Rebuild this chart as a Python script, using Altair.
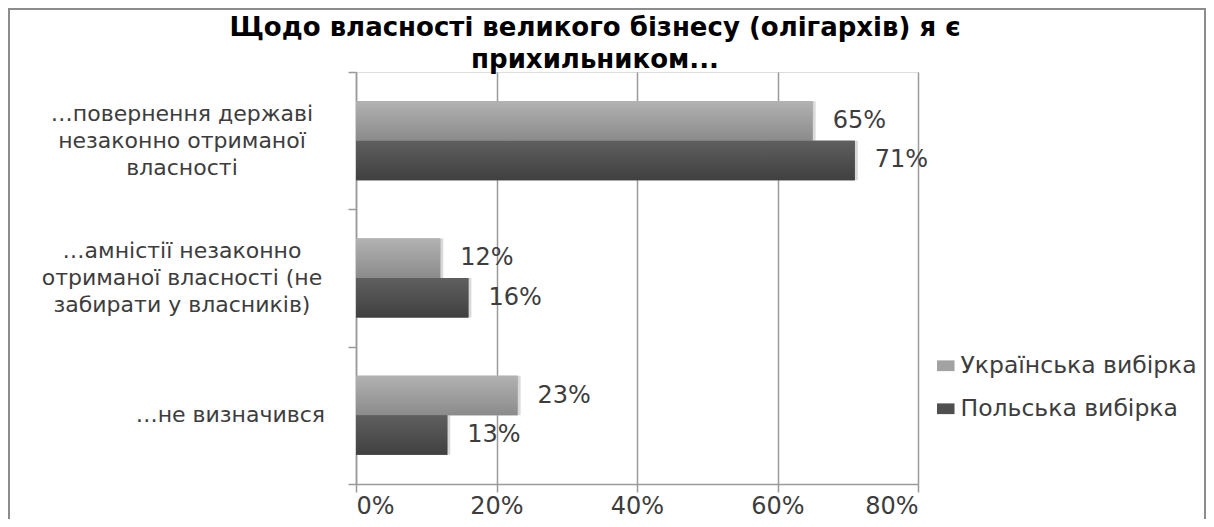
import altair as alt
import pandas as pd

# ---- data ----
categories = [
    "…повернення державі|незаконно отриманої|власності",
    "…амністії незаконно|отриманої власності (не|забирати у власників)",
    "…не визначився",
]
series = ["Українська вибірка", "Польська  вибірка"]
ukr_values = [65, 12, 23]
pol_values = [71, 16, 13]
x_ticks = [0, 20, 40, 60, 80]
title_lines = ["Щодо власності великого бізнесу (олігархів) я є", "прихильником..."]

FONT = "DejaVu Sans"
TEXT = "#3d3d3d"
GRID = "#9a9a9a"

rows = []
for c, u, p in zip(categories, ukr_values, pol_values):
    rows.append({"cat": c, "series": series[0], "value": u})
    rows.append({"cat": c, "series": series[1], "value": p})
df = pd.DataFrame(rows)
cat_df = pd.DataFrame({"cat": categories,
                       "multi": ["|" in c for c in categories]})
title_df = pd.DataFrame({"t": ["|".join(title_lines)]})

y_scale = alt.Scale(domain=categories, paddingInner=0, paddingOuter=0)
y_enc = alt.Y("cat:N", sort=categories, scale=y_scale,
              axis=alt.Axis(labels=False, title=None, tickBand="extent",
                            tickSize=8, tickColor=GRID, domainColor=GRID,
                            domainWidth=1.5, tickWidth=1.5, grid=False))
x_enc = alt.X("value:Q", scale=alt.Scale(domain=[0, 80], nice=False),
              axis=alt.Axis(values=x_ticks, labelExpr="datum.value + '%'",
                            title=None, grid=True, gridColor=GRID, gridWidth=1.5,
                            tickSize=8, tickColor=GRID, tickWidth=1.5,
                            domainColor=GRID, domainWidth=1.5,
                            labelFont=FONT, labelFontSize=24, labelColor=TEXT,
                            labelPadding=2))
yoff = alt.YOffset("series:N", sort=series,
                   scale=alt.Scale(domain=series, paddingInner=0, paddingOuter=0.738))

base = alt.Chart(df)

# soft shadow under the bars
shadow = base.mark_bar(color="#d9d9d9", xOffset=3, yOffset=3).encode(
    x="value:Q", y="cat:N", yOffset=yoff)

# solid bars (also drive the legend)
bars = base.mark_bar().encode(
    x=x_enc, y=y_enc, yOffset=yoff,
    color=alt.Color("series:N", sort=series,
                    scale=alt.Scale(domain=series, range=["#a2a2a2", "#4f4f4f"]),
                    legend=alt.Legend(title=None, orient="none", legendX=578, legendY=282,
                                      symbolType="M-0.9,-0.55H0.9V0.55H-0.9Z",
                                      symbolSize=380,
                                      symbolStrokeWidth=0, labelFont=FONT,
                                      labelFontSize=23.5, labelColor=TEXT,
                                      labelOffset=3, rowPadding=18, padding=0,
                                      labelLimit=400)),
)

def grad(c1, c2):
    return alt.Gradient(gradient="linear", x1=0, y1=0, x2=0, y2=1,
                        stops=[alt.GradientStop(color=c1, offset=0),
                               alt.GradientStop(color=c2, offset=1)])

ukr_bars = base.transform_filter(alt.datum.series == series[0]).mark_bar(
    color=grad("#b2b2b2", "#8b8b8b")).encode(x="value:Q", y="cat:N", yOffset=yoff)
pol_bars = base.transform_filter(alt.datum.series == series[1]).mark_bar(
    color=grad("#5f5f5f", "#404040")).encode(x="value:Q", y="cat:N", yOffset=yoff)

labels = base.transform_calculate(lbl="datum.value + '%'").mark_text(
    align="left", baseline="middle", dx=20, font=FONT, fontSize=24, color=TEXT).encode(
    x="value:Q", y="cat:N", yOffset=yoff, text="lbl:N")

cat_base = alt.Chart(cat_df)
ylab_multi = cat_base.transform_filter(alt.datum.multi).mark_text(
    align="center", baseline="middle", lineBreak="|", lineHeight=27, dy=-27,
    font=FONT, fontSize=22, color=TEXT).encode(
    y="cat:N", x=alt.value(-174), text="cat:N")
ylab_single = cat_base.transform_filter(~alt.datum.multi).mark_text(
    align="right", baseline="middle", font=FONT, fontSize=22, color=TEXT).encode(
    y="cat:N", x=alt.value(-31), text="cat:N")

title = alt.Chart(title_df).mark_text(
    align="center", baseline="alphabetic", lineBreak="|", lineHeight=32,
    font=FONT, fontSize=26, fontWeight="bold", color="black").encode(
    x=alt.value(239), y=alt.value(-36), text="t:N")

border = alt.Chart(pd.DataFrame({"k": [0]})).mark_rect(
    filled=False, stroke="#8c8c8c", strokeWidth=2).encode(
    x=alt.value(-347), x2=alt.value(849), y=alt.value(-63), y2=alt.value(470))

chart = alt.layer(border, shadow, bars, ukr_bars, pol_bars, labels, ylab_multi,
                  ylab_single, title).properties(
    width=562, height=412,
    autosize=alt.AutoSizeParams(type="none"),
    padding={"left": 348, "top": 64, "right": 288, "bottom": 35},
).configure_view(stroke=None).configure(background="white")

chart.save("out.html", embed_options={"renderer": "svg", "actions": False})
